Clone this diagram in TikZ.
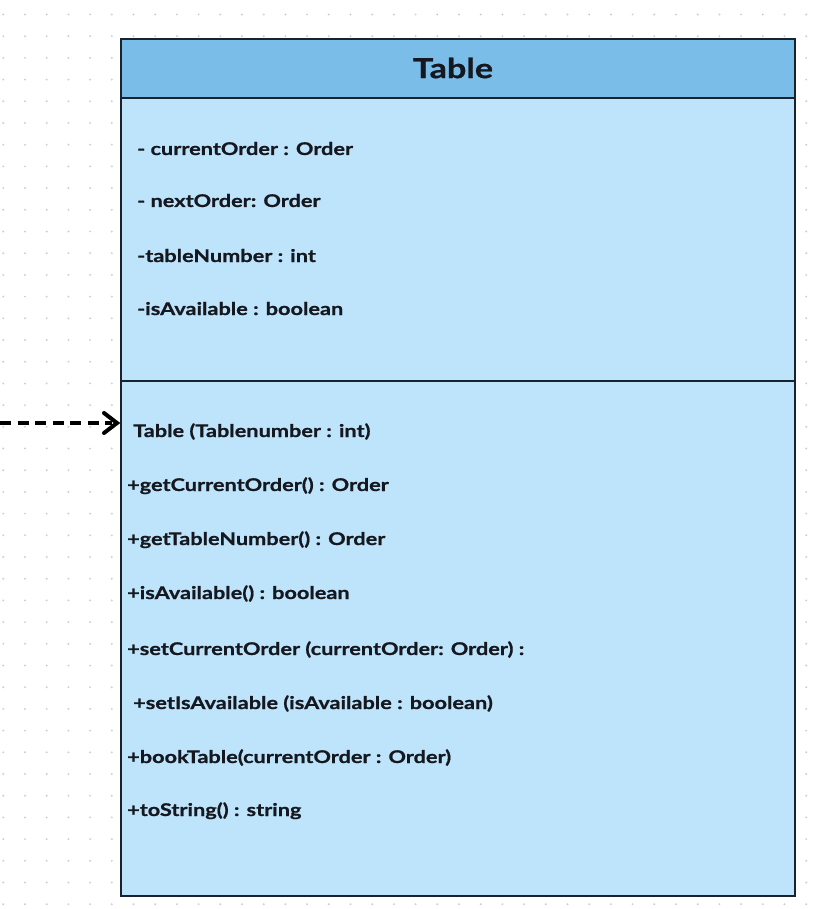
\documentclass[tikz,border=0pt]{standalone}
\usepackage{fontspec}
\setmainfont{Lato}[FakeStretch=1.24, BoldFeatures={FakeBold=0.8}]
\usetikzlibrary{arrows.meta}
\definecolor{hdrblue}{RGB}{122,189,232}
\definecolor{bodyblue}{RGB}{190,228,251}
\definecolor{edgedark}{RGB}{25,35,45}
\definecolor{dotgray}{RGB}{205,208,214}
\definecolor{inkdark}{RGB}{22,24,32}
\tikzset{
  member/.style={anchor=base west, inner sep=0pt, font=\bfseries\fontsize{17.5}{20}\selectfont, text=inkdark},
  classtitle/.style={inner sep=0pt, font=\bfseries\fontsize{27.5}{32}\selectfont, text=inkdark},
  depend/.style={line width=4pt, dash pattern=on 11pt off 6.5pt, draw=black},
}
\begin{document}
\begin{tikzpicture}[x=1pt,y=-1pt]
\useasboundingbox (0,0) rectangle (826,909);
\fill[white] (0,0) rectangle (826,909);
% dot grid
\foreach \i in {0,...,38}{
  \foreach \j in {0,...,41}{
    \fill[dotgray] ({3.3+21.7*\i},{14.5+21.7*\j}) circle (1.1);
  }
}
% class box
\node[draw=edgedark, line width=1.5pt, fill=bodyblue, minimum width=674pt, minimum height=798pt, inner sep=0pt, anchor=north west] (body) at (120,97) {};
\node[draw=edgedark, line width=2pt, fill=hdrblue, minimum width=674pt, minimum height=59pt, inner sep=0pt, anchor=north west] (head) at (120,38) {};
\node[classtitle] (title) at (453,68) {Table};
\coordinate (divL) at (120,381);
\coordinate (divR) at (794,381);
\draw[edgedark, line width=1.2pt] (divL) -- (divR);
% attributes
\node[member] (a1) at (137,155) {- currentOrder : Order};
\node[member] (a2) at (137,207) {- nextOrder: Order};
\node[member] (a3) at (137,262) {-tableNumber : int};
\node[member] (a4) at (137,315) {-isAvailable : boolean};
% methods
\node[member] (m1) at (133,437) {Table (Tablenumber : int)};
\node[member] (m2) at (127,491) {+getCurrentOrder() : Order};
\node[member] (m3) at (127,545) {+getTableNumber() : Order};
\node[member] (m4) at (127,599) {+isAvailable() : boolean};
\node[member] (m5) at (127,655) {+setCurrentOrder (currentOrder: Order) :};
\node[member] (m6) at (133,709) {+setIsAvailable (isAvailable : boolean)};
\node[member] (m7) at (127,763) {+bookTable(currentOrder : Order)};
\node[member] (m8) at (127,816) {+toString() : string};
% dependency arrow
\coordinate (src) at (0,423);
\coordinate (tgt) at (117,423);
\draw[depend] (src) -- ([xshift=-5pt]tgt);
\draw[line width=4pt, line cap=round, line join=miter] ([xshift=-13pt,yshift=-10pt]tgt) -- (tgt) -- ([xshift=-13pt,yshift=10pt]tgt);
\end{tikzpicture}
\end{document}
